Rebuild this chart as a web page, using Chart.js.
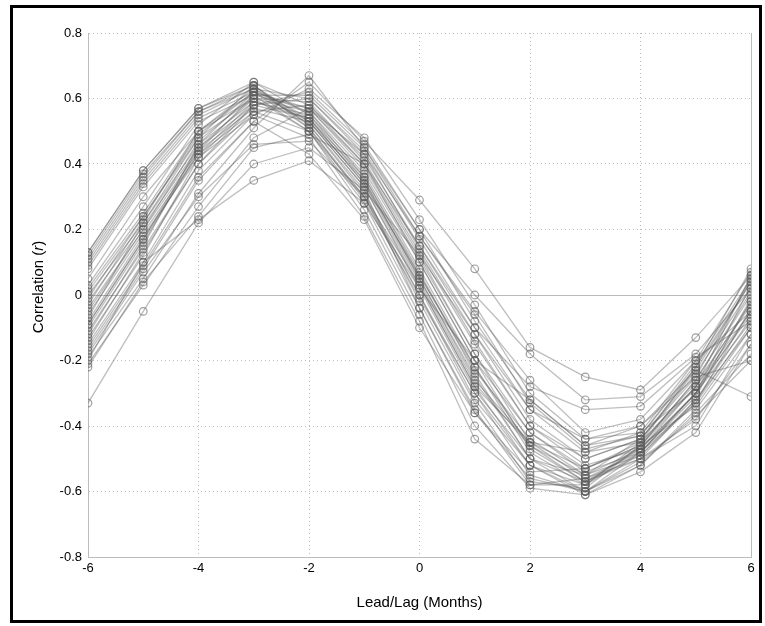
<!DOCTYPE html>
<html>
<head>
<meta charset="utf-8">
<script src="https://cdn.jsdelivr.net/npm/chart.js@4/dist/chart.umd.min.js"></script>
<style>
  html, body { margin: 0; padding: 0; background: #fff; }
  #wrap { position: relative; width: 765px; height: 626px; }
  #frame {
    position: absolute; left: 10px; top: 5px; width: 746px; height: 612px;
    border: 3px solid #000; pointer-events: none;
  }
  canvas { position: absolute; left: 0; top: 0; }
</style>
</head>
<body>
<div id="wrap">
  <canvas id="grafico" width="765" height="626"></canvas>
  <div id="frame"></div>
</div>
<script>
// ── Eixos ───────────────────────────────────────────────────────
const lagMonths = [-6, -5, -4, -3, -2, -1, 0, 1, 2, 3, 4, 5, 6];
const xTicks    = [-6, -4, -2, 0, 2, 4, 6];
const yTicks    = [-0.8, -0.6, -0.4, -0.2, 0, 0.2, 0.4, 0.6, 0.8];

// ── Correlações por estação (uma linha por série) ───────────────
const s01 = [ 0.13, 0.38, 0.57, 0.65, 0.55, 0.35, 0.05, -0.25, -0.50, -0.60, -0.50, -0.32, -0.10];
const s02 = [ 0.12, 0.37, 0.56, 0.64, 0.53, 0.33, 0.03, -0.28, -0.52, -0.61, -0.52, -0.35, -0.12];
const s03 = [ 0.10, 0.35, 0.55, 0.63, 0.52, 0.31, 0.00, -0.30, -0.55, -0.60, -0.48, -0.30, -0.08];
const s04 = [ 0.09, 0.34, 0.54, 0.62, 0.51, 0.30, -0.02, -0.33, -0.57, -0.59, -0.46, -0.28, -0.05];
const s05 = [ 0.08, 0.33, 0.53, 0.61, 0.50, 0.28, -0.04, -0.35, -0.58, -0.58, -0.45, -0.27, -0.03];
const s06 = [ 0.11, 0.36, 0.56, 0.63, 0.54, 0.34, 0.06, -0.22, -0.46, -0.57, -0.50, -0.38, -0.15];
const s07 = [ 0.02, 0.25, 0.50, 0.62, 0.57, 0.40, 0.12, -0.18, -0.45, -0.56, -0.48, -0.30, -0.05];
const s08 = [ 0.01, 0.24, 0.48, 0.60, 0.56, 0.38, 0.10, -0.20, -0.47, -0.57, -0.47, -0.28, -0.02];
const s09 = [ 0.00, 0.22, 0.46, 0.59, 0.55, 0.37, 0.08, -0.22, -0.48, -0.58, -0.46, -0.26, 0.00];
const s10 = [-0.02, 0.21, 0.45, 0.58, 0.54, 0.36, 0.07, -0.24, -0.50, -0.55, -0.44, -0.24, 0.02];
const s11 = [-0.04, 0.20, 0.44, 0.57, 0.53, 0.35, 0.05, -0.26, -0.45, -0.53, -0.45, -0.22, 0.04];
const s12 = [-0.06, 0.19, 0.43, 0.56, 0.58, 0.42, 0.15, -0.12, -0.38, -0.50, -0.44, -0.25, 0.05];
const s13 = [-0.08, 0.18, 0.42, 0.58, 0.60, 0.44, 0.17, -0.10, -0.35, -0.48, -0.45, -0.28, 0.06];
const s14 = [-0.09, 0.17, 0.45, 0.60, 0.59, 0.41, 0.13, -0.15, -0.40, -0.52, -0.47, -0.30, 0.03];
const s15 = [-0.10, 0.16, 0.44, 0.61, 0.57, 0.39, 0.11, -0.18, -0.42, -0.54, -0.48, -0.31, -0.01];
const s16 = [-0.12, 0.15, 0.46, 0.62, 0.56, 0.36, 0.06, -0.23, -0.44, -0.55, -0.49, -0.33, -0.04];
const s17 = [-0.14, 0.13, 0.40, 0.58, 0.62, 0.46, 0.20, -0.08, -0.32, -0.46, -0.43, -0.22, 0.08];
const s18 = [-0.15, 0.10, 0.38, 0.55, 0.63, 0.48, 0.23, -0.03, -0.30, -0.44, -0.42, -0.20, 0.07];
const s19 = [-0.17, 0.08, 0.35, 0.53, 0.65, 0.47, 0.29, 0.08, -0.16, -0.25, -0.29, -0.13, 0.06];
const s20 = [-0.19, 0.05, 0.31, 0.51, 0.67, 0.45, 0.20, 0.00, -0.18, -0.32, -0.31, -0.18, 0.02];
const s21 = [-0.21, 0.03, 0.27, 0.48, 0.57, 0.43, 0.18, -0.05, -0.26, -0.42, -0.38, -0.20, -0.05];
const s22 = [-0.22, 0.04, 0.24, 0.45, 0.49, 0.40, 0.15, -0.10, -0.28, -0.35, -0.34, -0.19, -0.08];
const s23 = [-0.33, -0.05, 0.22, 0.40, 0.45, 0.32, 0.12, -0.12, -0.35, -0.44, -0.40, -0.25, -0.20];
const s24 = [-0.20, 0.10, 0.23, 0.35, 0.41, 0.28, 0.02, -0.20, -0.32, -0.46, -0.40, -0.23, -0.31];
const s25 = [ 0.05, 0.30, 0.50, 0.60, 0.50, 0.30, 0.00, -0.32, -0.52, -0.60, -0.52, -0.36, -0.18];
const s26 = [-0.07, 0.22, 0.48, 0.64, 0.52, 0.32, -0.04, -0.36, -0.56, -0.60, -0.51, -0.37, -0.20];
const s27 = [-0.11, 0.14, 0.40, 0.56, 0.50, 0.26, -0.06, -0.40, -0.59, -0.61, -0.54, -0.42, -0.15];
const s28 = [-0.13, 0.12, 0.42, 0.55, 0.48, 0.24, -0.08, -0.44, -0.58, -0.56, -0.50, -0.40, -0.12];
const s29 = [-0.16, 0.09, 0.36, 0.53, 0.43, 0.23, -0.10, -0.36, -0.54, -0.53, -0.46, -0.34, -0.10];
const s30 = [-0.18, 0.07, 0.30, 0.46, 0.47, 0.30, 0.03, -0.28, -0.45, -0.48, -0.42, -0.29, -0.06];
const s31 = [ 0.03, 0.27, 0.52, 0.65, 0.58, 0.40, 0.10, -0.20, -0.42, -0.53, -0.46, -0.26, 0.01];
const s32 = [-0.03, 0.23, 0.50, 0.63, 0.60, 0.43, 0.14, -0.14, -0.40, -0.50, -0.44, -0.23, 0.04];
const s33 = [-0.05, 0.20, 0.47, 0.61, 0.61, 0.45, 0.18, -0.06, -0.33, -0.47, -0.43, -0.21, 0.05];
const s34 = [ 0.13, 0.38, 0.57, 0.64, 0.51, 0.29, -0.01, -0.30, -0.52, -0.58, -0.48, -0.33, -0.09];
const s35 = [-0.09, 0.17, 0.43, 0.59, 0.54, 0.34, 0.04, -0.27, -0.46, -0.55, -0.47, -0.30, -0.02];
const s36 = [-0.01, 0.24, 0.49, 0.62, 0.53, 0.33, 0.02, -0.29, -0.50, -0.57, -0.49, -0.32, -0.07];

const series = [s01, s02, s03, s04, s05, s06, s07, s08, s09, s10, s11, s12,
                s13, s14, s15, s16, s17, s18, s19, s20, s21, s22, s23, s24,
                s25, s26, s27, s28, s29, s30, s31, s32, s33, s34, s35, s36];

const fonte = '"Liberation Sans", Arial, sans-serif';

// ── Linha do zero, borda direita e título do eixo Y ─────────────
const extras = {
    id: 'extras',
    beforeDatasetsDraw(chart) {
        const { ctx, chartArea: a, scales: { y } } = chart;
        const y0 = Math.round(y.getPixelForValue(0)) + 0.5;
        ctx.save();
        ctx.strokeStyle = '#bcbcbc';
        ctx.lineWidth = 1;
        ctx.beginPath();
        ctx.moveTo(a.left, y0); ctx.lineTo(a.right, y0);
        ctx.moveTo(Math.round(a.right) + 0.5, a.top); ctx.lineTo(Math.round(a.right) + 0.5, a.bottom);
        ctx.stroke();
        ctx.restore();
    },
    afterDraw(chart) {
        const { ctx, chartArea: a } = chart;
        ctx.save();
        ctx.translate(39, (a.top + a.bottom) / 2 - 8);
        ctx.rotate(-Math.PI / 2);
        ctx.fillStyle = '#000';
        ctx.textBaseline = 'middle';
        const p1 = 'Correlation (', p2 = 'r', p3 = ')';
        ctx.font = '15px ' + fonte;
        const w1 = ctx.measureText(p1).width, w3 = ctx.measureText(p3).width;
        ctx.font = 'italic 15px ' + fonte;
        const w2 = ctx.measureText(p2).width;
        let x = -(w1 + w2 + w3) / 2;
        ctx.textAlign = 'left';
        ctx.font = '15px ' + fonte;        ctx.fillText(p1, x, 0); x += w1;
        ctx.font = 'italic 15px ' + fonte; ctx.fillText(p2, x, 0); x += w2;
        ctx.font = '15px ' + fonte;        ctx.fillText(p3, x, 0);
        ctx.restore();
    }
};

const datasets = series.map((valores, i) => ({
    label: 'S' + (i + 1),
    data: valores.map((v, k) => ({ x: lagMonths[k], y: v })),
    borderColor: 'rgba(85,85,85,0.38)',
    borderWidth: 1.3,
    pointRadius: 3.8,
    pointBorderWidth: 1.2,
    pointBorderColor: 'rgba(95,95,95,0.6)',
    pointBackgroundColor: 'rgba(0,0,0,0)',
    tension: 0
}));

new Chart(document.getElementById('grafico'), {
    type: 'line',
    data: { datasets },
    plugins: [extras],
    options: {
        responsive: false,
        animation: false,
        layout: { padding: { top: 33, right: 14, left: 0, bottom: 14 } },
        plugins: { legend: { display: false }, tooltip: { enabled: false } },
        scales: {
            x: {
                type: 'linear', min: -6, max: 6,
                afterBuildTicks: s => { s.ticks = xTicks.map(v => ({ value: v })); },
                afterFit: s => { s.height = 55; },
                grid: { color: '#bdbdbd', drawTicks: false },
                border: { display: true, color: '#bcbcbc', dash: [1, 3] },
                ticks: { color: '#000', padding: 4, font: { family: fonte, size: 13 }, maxRotation: 0 },
                title: {
                    display: true, text: 'Lead/Lag (Months)', color: '#000',
                    font: { family: fonte, size: 15 }, padding: { top: 8, bottom: 0 }
                }
            },
            y: {
                min: -0.8, max: 0.8,
                afterBuildTicks: s => { s.ticks = yTicks.map(v => ({ value: v })); },
                afterFit: s => { s.width = 88; },
                grid: { color: '#bdbdbd', drawTicks: false },
                border: { display: true, color: '#bcbcbc', dash: [1, 3] },
                ticks: {
                    color: '#000', padding: 6, font: { family: fonte, size: 13 },
                    callback: v => Math.abs(v) < 1e-9 ? '0' : v.toFixed(1)
                }
            }
        }
    }
});
</script>
</body>
</html>
